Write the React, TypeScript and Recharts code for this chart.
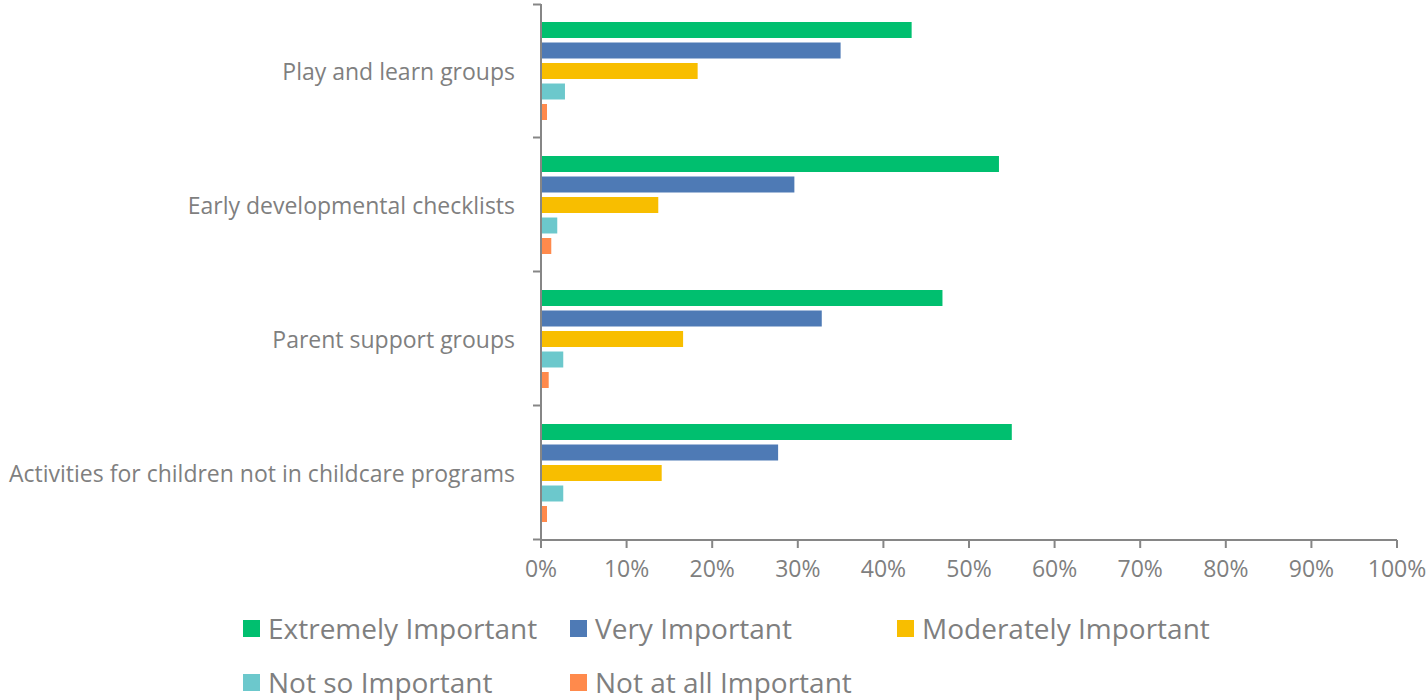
import { BarChart, Bar, XAxis, YAxis, Legend } from 'recharts';

const categories = [
  'Play and learn groups',
  'Early developmental checklists',
  'Parent support groups',
  'Activities for children not in childcare programs',
];

const seriesNames = [
  'Extremely Important',
  'Very Important',
  'Moderately Important',
  'Not so Important',
  'Not at all Important',
];

const extremely = [43.3, 53.5, 46.9, 55.0];
const very = [35.0, 29.6, 32.8, 27.7];
const moderately = [18.3, 13.7, 16.6, 14.1];
const notSo = [2.8, 1.9, 2.6, 2.6];
const notAtAll = [0.7, 1.2, 0.9, 0.7];

const xTicks = [0, 10, 20, 30, 40, 50, 60, 70, 80, 90, 100];

const colors = ['#00BF6F', '#4E7AB5', '#F8BE00', '#6CC8CC', '#FF8A4C'];

const data = categories.map((name, i) => ({
  name,
  [seriesNames[0]]: extremely[i],
  [seriesNames[1]]: very[i],
  [seriesNames[2]]: moderately[i],
  [seriesNames[3]]: notSo[i],
  [seriesNames[4]]: notAtAll[i],
}));

const W = 1427;
const H = 700;
const TOP = 4;
const BOTTOM = 536;
const TEXT = '#7F7F7F';
const AXIS = '#868686';
const FONT = '"Open Sans", sans-serif';
const band = (BOTTOM - TOP) / categories.length;

function CategoryTick(props: any) {
  const { x, y, payload, index } = props;
  return (
    <g>
      <text x={x - 18} y={y} textAnchor="end" dominantBaseline="central" fill={TEXT} fontSize={23} fontFamily={FONT}>
        {payload.value}
      </text>
      {index === 0 && <line x1={x} x2={x + 8} y1={y - band / 2} y2={y - band / 2} stroke={AXIS} strokeWidth={2} />}
      <line x1={x} x2={x + 8} y1={y + band / 2} y2={y + band / 2} stroke={AXIS} strokeWidth={2} />
    </g>
  );
}

function LegendBox() {
  return (
    <div style={{ position: 'relative', width: W, height: 90, fontFamily: FONT }}>
      {seriesNames.map((n, i) => (
        <div
          key={n}
          style={{
            position: 'absolute',
            left: 243 + (i % 3) * 327,
            top: Math.floor(i / 3) * 54,
            display: 'flex',
            alignItems: 'center',
            height: 36,
            whiteSpace: 'nowrap',
          }}
        >
          <span style={{ width: 17, height: 17, background: colors[i], display: 'inline-block', marginRight: 8 }} />
          <span style={{ color: TEXT, fontSize: 28 }}>{n}</span>
        </div>
      ))}
    </div>
  );
}

export default function App() {
  return (
    <div style={{ position: 'absolute', left: 0, top: 0, background: '#fff' }}>
      <BarChart
        width={W}
        height={H}
        data={data}
        layout="vertical"
        margin={{ top: TOP, right: 30, left: 0, bottom: 0 }}
        barSize={16}
        barGap={4.5}
      >
        <XAxis
          type="number"
          domain={[0, 100]}
          ticks={xTicks}
          tickFormatter={(v: number) => `${v}%`}
          height={H - BOTTOM - TOP}
          stroke={AXIS}
          strokeWidth={2}
          tickSize={8}
          tickMargin={13}
          tick={{ fill: TEXT, fontSize: 23, fontFamily: FONT }}
          interval={0}
        />
        <YAxis
          type="category"
          dataKey="name"
          width={541}
          stroke={AXIS}
          strokeWidth={2}
          tickLine={false}
          tick={<CategoryTick />}
          interval={0}
        />
        <Legend
          layout="vertical"
          align="center"
          verticalAlign="middle"
          wrapperStyle={{ top: 610, left: 0, width: W }}
          content={() => <LegendBox />}
        />
        {seriesNames.map((n, i) => (
          <Bar key={n} dataKey={n} fill={colors[i]} isAnimationActive={false} />
        ))}
      </BarChart>
    </div>
  );
}
